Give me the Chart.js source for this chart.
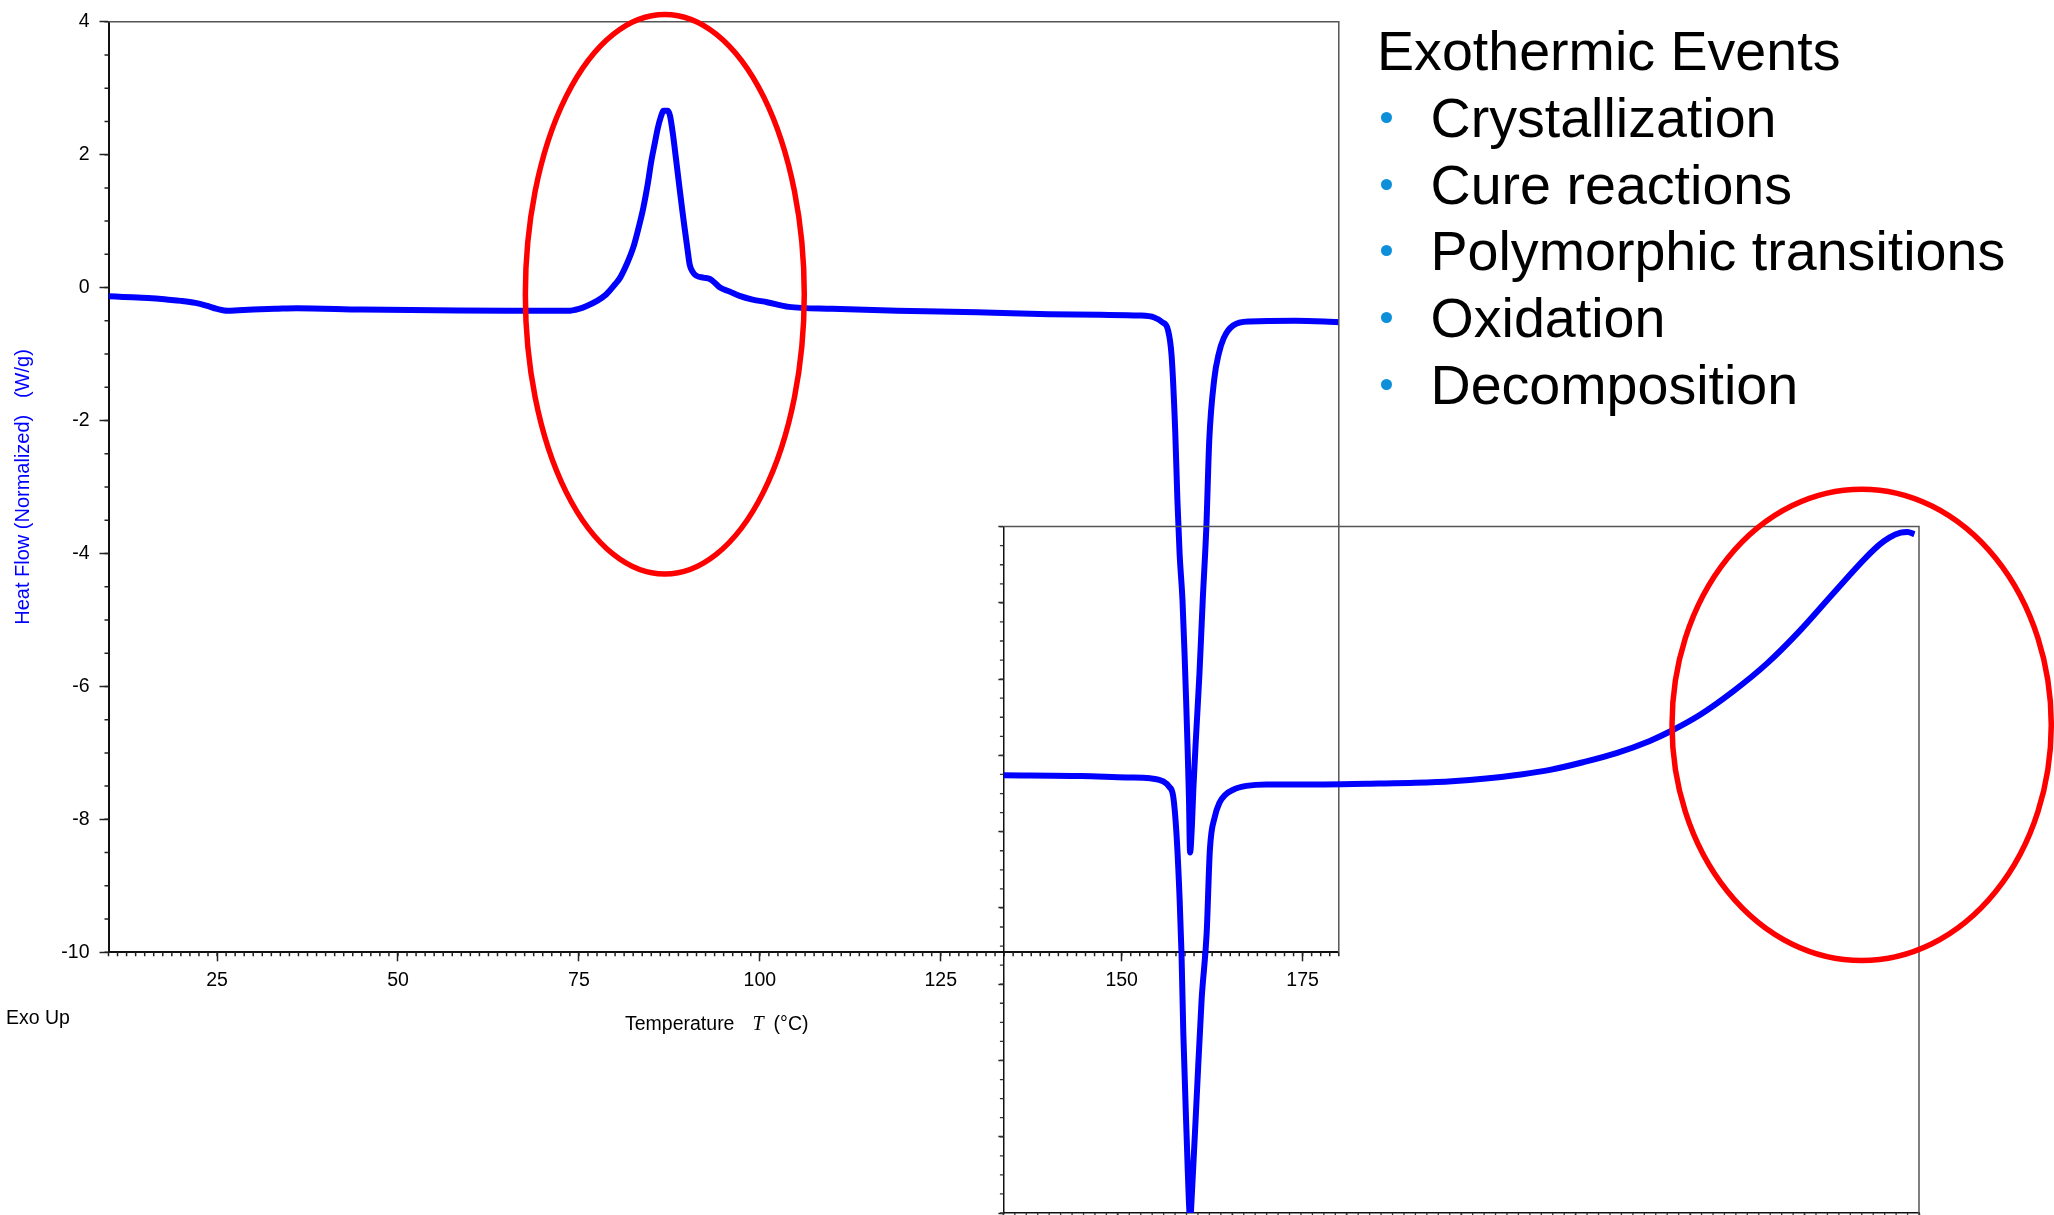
<!DOCTYPE html>
<html>
<head>
<meta charset="utf-8">
<title>DSC exothermic events</title>
<script src="https://cdn.jsdelivr.net/npm/chart.js@4.4.1/dist/chart.umd.min.js"></script>
<style>
  html, body { margin: 0; padding: 0; background: #fff; overflow: hidden; }
  body { position: relative; width: 2054px; height: 1215px; font-family: 'Liberation Sans', Arial, sans-serif; color: #000; }
  canvas { position: absolute; left: 0; top: 0; }
  .note { position: absolute; font-size: 19.5px; line-height: 20px; white-space: nowrap; z-index: 3; }
  #exoUp { left: 6px; top: 1007px; }
  #xTitle { left: 625px; top: 1013px; }
  #xTitle .sym { font-family: 'Liberation Serif', 'Times New Roman', serif; font-style: italic; font-size: 20px; margin: 0 10px 0 18px; }
  #events { position: absolute; left: 1377px; top: 18px; font-size: 55.6px; line-height: 66.8px; white-space: nowrap; z-index: 3; }
  #events ul { list-style: none; margin: 0; padding: 0; }
  #events li { position: relative; padding-left: 53.5px; }
  #events li::before { content: ''; position: absolute; left: 3.5px; top: 27px; width: 11px; height: 11px; border-radius: 50%; background: #0d8fd9; }
</style>
</head>
<body>
<canvas id="mainChart" width="2054" height="1215"></canvas>
<canvas id="insetChart" width="2054" height="1215"></canvas>
<div class="note" id="exoUp">Exo Up</div>
<div class="note" id="xTitle">Temperature<span class="sym">T</span>(°C)</div>
<div id="events"><div id="eventsTitle"></div><ul id="eventsList"></ul></div>

<script>
// DSC chart - crystallization peak + melting, inset shows melting + decomposition

// main trace: temperature (°C) and normalized heat flow (W/g)
const mainTemp = [10, 12, 14, 16, 18, 20, 22, 23.5, 25, 26.5, 28, 30, 33, 36, 45, 55, 65, 73.5,
  75, 76, 77.5, 78.8, 80, 80.7, 81.6, 82.5, 83.2, 83.9, 84.5, 85, 85.5, 85.9, 86.3, 86.7, 87.3,
  87.6, 88, 88.4, 88.9, 89.3, 89.6, 90, 90.3, 90.7, 91.2, 92.2, 93.1, 93.8, 94.5, 95.8, 97.2,
  99, 101, 104, 110, 119, 130, 140, 147, 152.5, 154.5, 155.6, 156.4, 156.9, 157.4, 157.7, 158, 158.4,
  158.7, 158.9, 159.1, 159.3, 159.45, 159.7, 159.9, 160.3, 160.75, 161.2, 161.7, 162.1, 162.8,
  163.4, 164.1, 165.4, 167.7, 174, 180];
const mainFlow = [-0.13, -0.14, -0.15, -0.16, -0.18, -0.20, -0.23, -0.27, -0.32, -0.35, -0.34, -0.33, -0.32, -0.31, -0.33, -0.34, -0.35, -0.35,
  -0.32, -0.28, -0.20, -0.10, 0.05, 0.15, 0.35, 0.60, 0.88, 1.20, 1.55, 1.90, 2.18, 2.40, 2.56, 2.66, 2.66,
  2.58, 2.30, 1.95, 1.50, 1.15, 0.90, 0.58, 0.35, 0.24, 0.18, 0.15, 0.13, 0.07, 0.00, -0.06, -0.125,
  -0.18, -0.22, -0.29, -0.32, -0.35, -0.37, -0.40, -0.41, -0.42, -0.45, -0.52, -0.64, -1.03, -2.17, -3.2, -4.0, -4.7,
  -5.55, -6.2, -6.9, -7.7, -8.5, -8.1, -7.55, -6.7, -5.8, -4.7, -3.6, -2.3, -1.37,
  -1.0, -0.76, -0.57, -0.51, -0.50, -0.52];

// inset trace: melting then decomposition exotherm
const insetTemp = [120, 137, 147, 152, 154.9, 156.2, 157.1, 157.8, 158.5, 158.9, 159.3, 160, 160.6, 160.8,
  161.1, 162.2, 163.3, 164.4, 165.1, 166.2, 167.2, 168.4, 170.2, 173.1, 177.5, 190, 202, 210, 218, 226,
  233, 239.4, 246.6, 253.9, 261.2, 265.5, 272.1, 279.4, 286.7, 293.9, 301.2, 308.5, 311.5, 313.6, 316,
  317.5, 319];
const insetFlow = [-0.26, -0.27, -0.29, -0.30, -0.34, -0.41, -0.54, -1.02, -1.89, -2.59, -3.64, -4.95, -5.95, -6.1,
  -5.83, -4.51, -3.2, -2.33, -1.24, -0.80, -0.62, -0.52, -0.45, -0.40, -0.38, -0.38, -0.37, -0.36, -0.34, -0.30,
  -0.25, -0.19, -0.09, 0.03, 0.19, 0.31, 0.53, 0.84, 1.20, 1.63, 2.12, 2.60, 2.77, 2.86, 2.92,
  2.93, 2.90];

// tick labels
const mainXTicks = [25, 50, 75, 100, 125, 150, 175];
const mainYTicks = [-10, -8, -6, -4, -2, 0, 2, 4];

// text panel
const eventsTitle = 'Exothermic Events';
const eventLabels = ['Crystallization', 'Cure reactions', 'Polymorphic transitions', 'Oxidation', 'Decomposition'];

document.getElementById('eventsTitle').textContent = eventsTitle;
const list = document.getElementById('eventsList');
eventLabels.forEach(t => {
    const li = document.createElement('li');
    li.textContent = t;
    list.appendChild(li);
});

const FONT = "'Liberation Sans', Arial, sans-serif";
const toPoints = (xs, ys) => xs.map((x, i) => ({ x, y: ys[i] }));

// small tick marks between the labelled ones
const minorTicks = {
    id: 'minorTicks',
    afterDraw(chart, args, opts) {
        const ctx = chart.ctx;
        ctx.save();
        ctx.strokeStyle = opts.color || '#222';
        ctx.lineWidth = opts.width || 1.5;
        ['x', 'y'].forEach(id => {
            const o = opts[id];
            if (!o) return;
            const s = chart.scales[id];
            const start = Math.ceil(s.min / o.step - 1e-9);
            const end = Math.floor(s.max / o.step + 1e-9);
            ctx.beginPath();
            for (let k = start; k <= end; k++) {
                const p = s.getPixelForValue(k * o.step);
                if (s.isHorizontal()) {
                    ctx.moveTo(p, s.top);
                    ctx.lineTo(p, s.top + o.len);
                } else {
                    ctx.moveTo(s.right, p);
                    ctx.lineTo(s.right - o.len, p);
                }
            }
            ctx.stroke();
        });
        ctx.restore();
    }
};

// top + right edges of the plot box
const frame = {
    id: 'frame',
    afterDraw(chart, args, opts) {
        const { left, right, top, bottom } = chart.chartArea;
        const ctx = chart.ctx;
        ctx.save();
        ctx.strokeStyle = opts.color || '#555';
        ctx.lineWidth = opts.width || 1.5;
        ctx.beginPath();
        ctx.moveTo(left, top);
        ctx.lineTo(right, top);
        ctx.lineTo(right, bottom);
        ctx.stroke();
        ctx.restore();
    }
};

// red highlight rings, given in data units
const rings = {
    id: 'rings',
    afterDraw(chart, args, opts) {
        if (!opts.items) return;
        const ctx = chart.ctx;
        const xs = chart.scales.x, ys = chart.scales.y;
        ctx.save();
        ctx.strokeStyle = opts.color;
        ctx.lineWidth = opts.width;
        opts.items.forEach(r => {
            const cx = xs.getPixelForValue(r.x), cy = ys.getPixelForValue(r.y);
            const rx = Math.abs(xs.getPixelForValue(r.x + r.rx) - cx);
            const ry = Math.abs(ys.getPixelForValue(r.y + r.ry) - cy);
            ctx.beginPath();
            ctx.ellipse(cx, cy, rx, ry, 0, 0, Math.PI * 2);
            ctx.stroke();
        });
        ctx.restore();
    }
};

Chart.register(minorTicks, frame, rings);

function lineDataset(points) {
    return {
        data: points,
        showLine: true,
        borderColor: '#0000ff',
        borderWidth: 6,
        pointRadius: 0,
        cubicInterpolationMode: 'monotone',
        fill: false,
        borderJoinStyle: 'round',
        borderCapStyle: 'butt'
    };
}

// main plot
new Chart(document.getElementById('mainChart'), {
    type: 'scatter',
    data: { datasets: [lineDataset(toPoints(mainTemp, mainFlow))] },
    options: {
        responsive: false,
        animation: false,
        devicePixelRatio: 1,
        layout: { padding: { top: 19.65, right: 715.2, bottom: 0, left: 0 } },
        plugins: {
            legend: { display: false },
            tooltip: { enabled: false },
            minorTicks: { x: { step: 1.25, len: 4 }, y: { step: 0.5, len: 4 }, color: '#222', width: 1.5 },
            frame: { color: '#555', width: 1.5 },
            rings: { color: '#ff0000', width: 5.5, items: [{ x: 86.87, y: -0.10, rx: 19.27, ry: 4.21 }] }
        },
        scales: {
            x: {
                type: 'linear', min: 10, max: 180,
                afterBuildTicks: s => { s.ticks = mainXTicks.map(v => ({ value: v })); },
                afterFit: s => { s.height = 262.7; },
                border: { color: '#111', width: 2 },
                grid: { drawOnChartArea: false, tickLength: 9, tickColor: '#222', tickWidth: 1.5 },
                ticks: { color: '#000', font: { family: FONT, size: 19.5 }, padding: 8, maxRotation: 0, autoSkip: false }
            },
            y: {
                type: 'linear', min: -10, max: 4,
                afterBuildTicks: s => { s.ticks = mainYTicks.map(v => ({ value: v })); },
                afterFit: s => { s.width = 108.5; },
                border: { color: '#111', width: 2 },
                grid: { drawOnChartArea: false, tickLength: 9, tickColor: '#222', tickWidth: 1.5 },
                ticks: { color: '#000', font: { family: FONT, size: 19.5 }, padding: 10 },
                title: {
                    display: true, text: 'Heat Flow (Normalized)   (W/g)', color: '#0000ff',
                    font: { family: FONT, size: 20 }, padding: { top: 11.5, bottom: 0 }
                }
            }
        }
    }
});

// inset plot, labels hidden
new Chart(document.getElementById('insetChart'), {
    type: 'scatter',
    data: { datasets: [lineDataset(toPoints(insetTemp, insetFlow))] },
    options: {
        responsive: false,
        animation: false,
        devicePixelRatio: 1,
        layout: { padding: { top: 526.6, right: 135, bottom: 0, left: 0 } },
        plugins: {
            legend: { display: false },
            tooltip: { enabled: false },
            minorTicks: { x: { step: 2.5, len: 4 }, y: { step: 0.25, len: 3.5 }, color: '#333', width: 1.3 },
            frame: { color: '#555', width: 1.5 },
            rings: { color: '#ff0000', width: 5.5, items: [{ x: 307.47, y: 0.40, rx: 41.42, ry: 3.09 }] }
        },
        scales: {
            x: {
                type: 'linear', min: 120, max: 320,
                afterFit: s => { s.height = 2; },
                border: { color: '#111', width: 1.5 },
                grid: { drawOnChartArea: false, tickLength: 9, tickColor: '#222', tickWidth: 1.5 },
                ticks: { display: false, stepSize: 25, includeBounds: false }
            },
            y: {
                type: 'linear', min: -6, max: 3,
                afterFit: s => { s.width = 1003.4; },
                border: { color: '#111', width: 1.5 },
                grid: { drawOnChartArea: false, tickLength: 5, tickColor: '#222', tickWidth: 1.5 },
                ticks: { display: false, stepSize: 1 }
            }
        }
    }
});
</script>
</body>
</html>
